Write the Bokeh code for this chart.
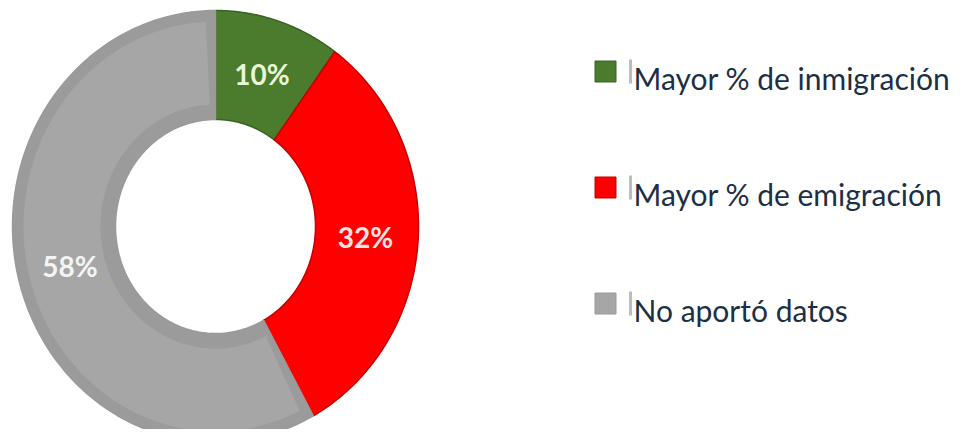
import numpy as np
from bokeh.plotting import figure
from bokeh.models import Range1d, ColumnDataSource
from bokeh.embed import file_html
from bokeh.resources import INLINE
from bokeh.core.properties import value

categories = ["Mayor % de inmigración", "Mayor % de emigración", "No aportó datos"]
shares = [10, 32, 58]
pct_labels = ["10%", "32%", "58%"]
colors = ["#4b7b2c", "#ff0000", "#a6a6a6"]
edge_colors = ["#3b6321", "#c40000", "#9a9a9a"]
label_colors = ["#e8f6da", "#fde3e3", "#f4f4f4"]

W, H = 949, 429
p = figure(width=W, height=H, x_range=Range1d(0, W), y_range=Range1d(H, 0),
           output_backend="svg", toolbar_location=None, min_border=0)
p.axis.visible = False
p.grid.visible = False
p.outline_line_color = None
p.background_fill_color = "white"
p.border_fill_color = "white"

cx, cy = 215, 226
rxo, ryo = 203, 216
rxi, ryi = 100, 107

def ring(a0, a1, ro_x, ro_y, ri_x, ri_y, n=120):
    t = np.linspace(a0, a1, n)
    xs = np.concatenate([cx + ro_x * np.sin(t), cx + ri_x * np.sin(t[::-1])])
    ys = np.concatenate([cy - ro_y * np.cos(t), cy - ri_y * np.cos(t[::-1])])
    return list(xs), list(ys)

total = float(sum(shares))
fr = np.cumsum([0] + shares) / total
angles = 2 * np.pi * fr

xs_all, ys_all = [], []
for i in range(len(shares)):
    x, y = ring(angles[i], angles[i + 1], rxo, ryo, rxi, ryi)
    xs_all.append(x); ys_all.append(y)

fills = [colors[0], colors[1], "#9b9b9b"]
src = ColumnDataSource(dict(xs=xs_all, ys=ys_all, fill=fills, edge=edge_colors))
p.patches("xs", "ys", source=src, fill_color="fill", line_color="edge", line_width=1.5)

# lighter body inside the grey slice (bevel look)
gi = 2
d = 0.05
x, y = ring(angles[gi] + d, angles[gi + 1] - d, rxo - 11, ryo - 11, rxi + 15, ryi + 15)
p.patch(x, y, fill_color=colors[2], line_color=None)

# percentage labels
mid = (angles[:-1] + angles[1:]) / 2
lr = 0.74
lx = list(cx + lr * rxo * np.sin(mid))
ly = list(cy - lr * ryo * np.cos(mid))
p.text(x=lx, y=ly, text=pct_labels, text_color=label_colors,
       text_font=value("Lato"), text_font_style="bold", text_font_size="28px",
       text_align="center", text_baseline="middle")

# legend
row_y = [71, 187, 303]
sq_x = 605
p.scatter(x=[sq_x] * 3, y=row_y, marker="square", size=21, fill_color=colors,
          line_color=edge_colors, line_width=1)
p.rect(x=[630] * 3, y=row_y, width=3, height=24, fill_color="#b9bdc2",
       line_color=None)
p.text(x=[633] * 3, y=[v + 6 for v in row_y], text=categories,
       text_color="#1c3045", text_font=value("Lato"),
       text_font_size="30px", text_align="left", text_baseline="alphabetic")

open("out.html", "w").write(file_html(p, INLINE))
